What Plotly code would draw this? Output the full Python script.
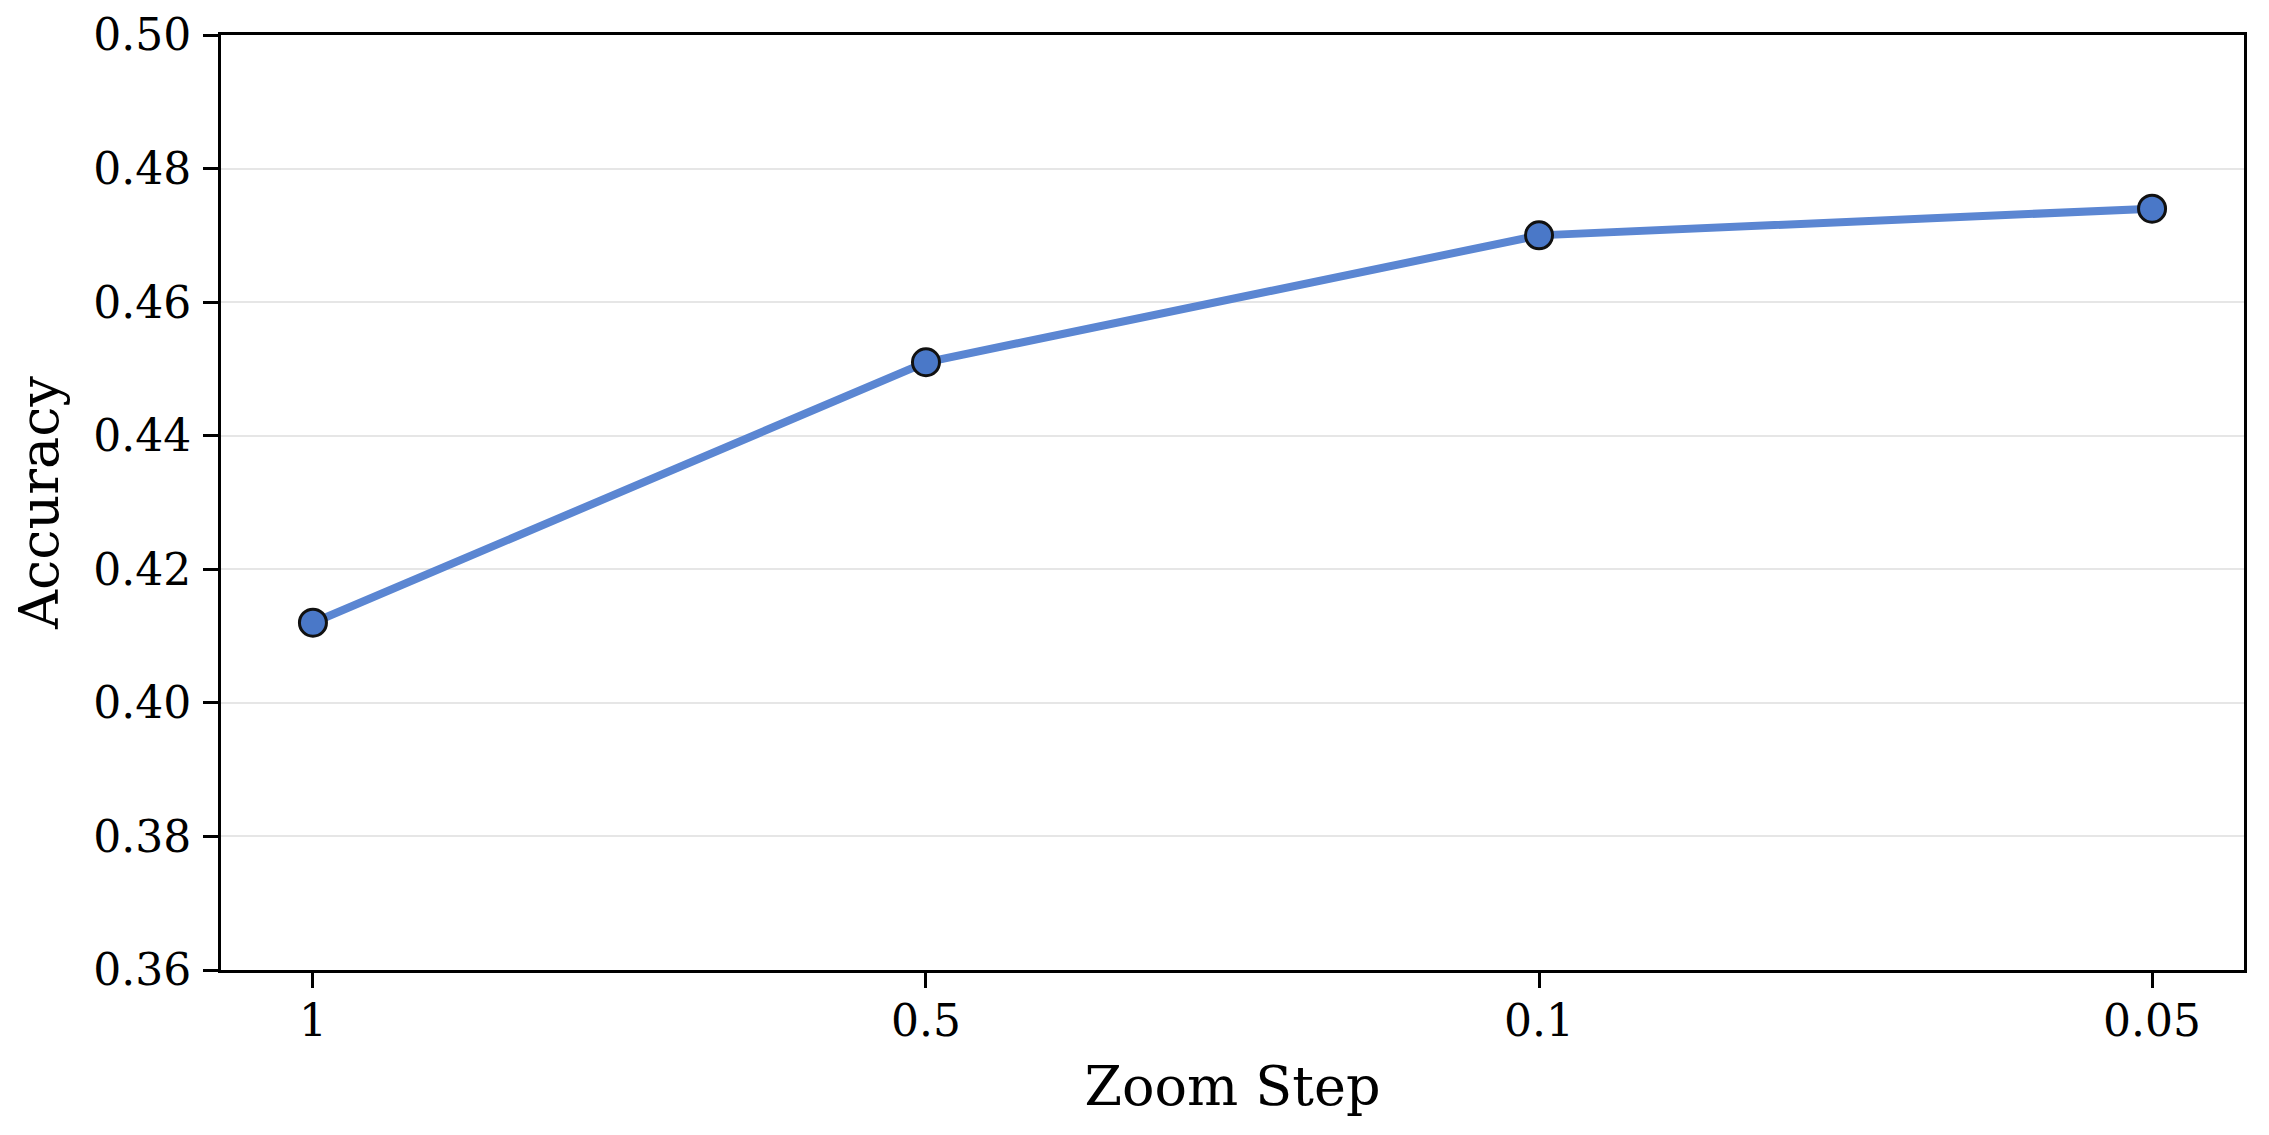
import plotly.graph_objects as go

# zoom step vs accuracy
zoom_steps = ["1", "0.5", "0.1", "0.05"]
accuracy = [0.412, 0.451, 0.470, 0.474]
y_ticks = [0.36, 0.38, 0.40, 0.42, 0.44, 0.46, 0.48, 0.50]

fig = go.Figure()
fig.add_trace(go.Scatter(
    x=zoom_steps, y=accuracy, mode="lines+markers",
    line=dict(color="#5B86D2", width=8),
    marker=dict(color="#4A78C8", size=27, line=dict(color="#111111", width=3)),
    showlegend=False,
))

fig.update_layout(
    width=2269, height=1135,
    margin=dict(l=213, r=33, t=27, b=173),
    plot_bgcolor="white", paper_bgcolor="white",
    font=dict(family="DejaVu Serif", size=44, color="black"),
)
fig.update_xaxes(
    type="category", range=[-0.15, 3.15], automargin=False,
    showgrid=False, showline=True, linecolor="black", linewidth=3, mirror=True,
    ticks="outside", ticklen=15, tickwidth=3, tickcolor="black",
    ticklabelstandoff=-5,
    title=dict(text="Zoom Step", font=dict(size=54), standoff=23),
)
fig.update_yaxes(
    range=[0.36, 0.50], tickvals=y_ticks, tickformat=".2f", automargin=False,
    showgrid=True, gridcolor="#E6E6E6", gridwidth=2, zeroline=False,
    showline=True, linecolor="black", linewidth=3, mirror=True,
    ticks="outside", ticklen=15, tickwidth=3, tickcolor="black",
    ticklabelstandoff=3, ticklabeloverflow="allow",
    title=dict(text="Accuracy", font=dict(size=54), standoff=18),
)

fig.write_html("out.html")
